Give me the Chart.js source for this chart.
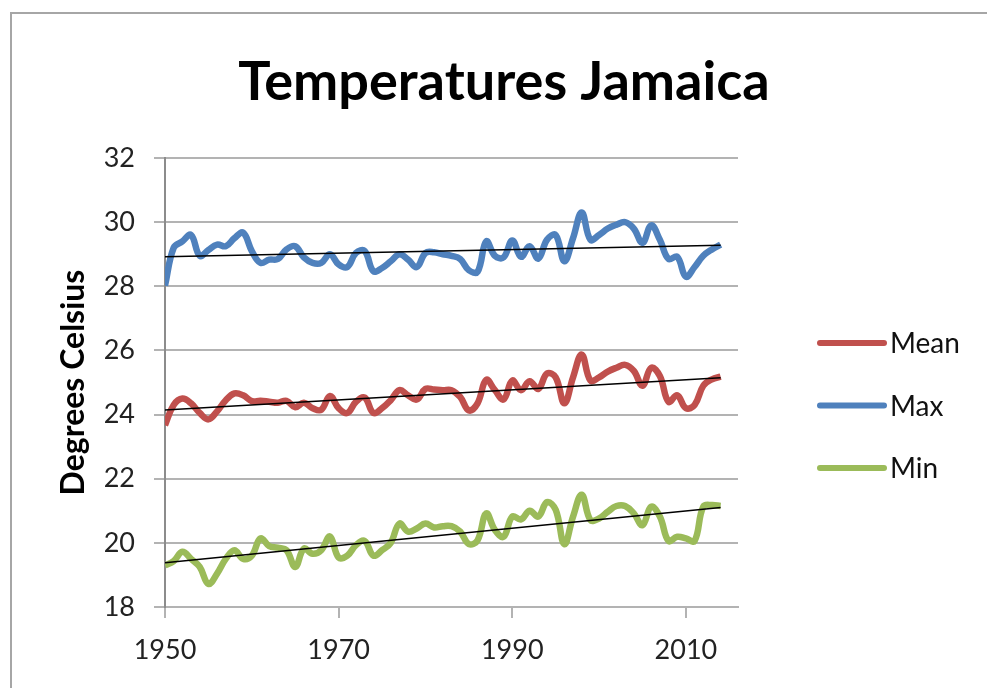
<!DOCTYPE html>
<html>
<head>
<meta charset="utf-8">
<title>Temperatures Jamaica</title>
<script src="https://cdn.jsdelivr.net/npm/chart.js@4.4.1/dist/chart.umd.min.js"></script>
<style>
    html, body { margin: 0; padding: 0; background: #fff; }
    #wrap { position: relative; width: 987px; height: 688px; overflow: hidden; }
    #frame {
        position: absolute; left: 10px; top: 12px; width: 1000px; height: 700px;
        border-left: 2px solid #a6a6a6; border-top: 2px solid #a6a6a6;
    }
    canvas { position: absolute; left: 0; top: 0; }
</style>
</head>
<body>
<div id="wrap">
    <div id="frame"></div>
    <canvas id="tempChart" width="987" height="688"></canvas>
</div>
<script>
const chartTitle = 'Temperatures Jamaica';
const yAxisTitle = 'Degrees Celsius';

// one value per year, 1950-2014
const years = Array.from({ length: 65 }, (_, i) => 1950 + i);

const meanTemp = [
    23.67, 24.30, 24.50, 24.35, 24.05, 23.85, 24.10, 24.45, 24.66, 24.60,
    24.42, 24.43, 24.40, 24.37, 24.43, 24.23, 24.37, 24.20, 24.15, 24.58,
    24.20, 24.05, 24.40, 24.53, 24.05, 24.20, 24.45, 24.76, 24.60, 24.47,
    24.80, 24.78, 24.76, 24.76, 24.55, 24.13, 24.35, 25.08, 24.76, 24.47,
    25.06, 24.76, 25.04, 24.80, 25.28, 25.16, 24.35, 25.16, 25.87, 25.06,
    25.16, 25.34, 25.46, 25.55, 25.36, 24.90, 25.46, 25.20, 24.40, 24.60,
    24.20, 24.30, 24.90, 25.10, 25.18
];
const maxTemp = [
    28.02, 29.20, 29.40, 29.60, 28.95, 29.13, 29.30, 29.25, 29.50, 29.67,
    29.10, 28.73, 28.83, 28.85, 29.15, 29.25, 28.90, 28.73, 28.73, 29.00,
    28.68, 28.60, 29.04, 29.10, 28.47, 28.57, 28.78, 29.00, 28.83, 28.60,
    29.04, 29.06, 29.00, 28.95, 28.85, 28.50, 28.45, 29.40, 28.95, 28.90,
    29.43, 28.92, 29.25, 28.86, 29.45, 29.60, 28.78, 29.50, 30.30, 29.45,
    29.60, 29.80, 29.92, 30.00, 29.80, 29.35, 29.90, 29.45, 28.85, 28.92,
    28.30, 28.60, 28.95, 29.15, 29.30
];
const minTemp = [
    19.30, 19.43, 19.72, 19.50, 19.25, 18.72, 19.04, 19.50, 19.77, 19.50,
    19.60, 20.14, 19.90, 19.85, 19.77, 19.25, 19.82, 19.66, 19.77, 20.20,
    19.54, 19.60, 19.93, 20.06, 19.60, 19.77, 20.00, 20.60, 20.35, 20.45,
    20.60, 20.48, 20.52, 20.52, 20.35, 19.96, 20.08, 20.92, 20.40, 20.19,
    20.82, 20.73, 21.00, 20.82, 21.27, 21.03, 19.96, 20.82, 21.50, 20.71,
    20.76, 20.97, 21.15, 21.15, 20.92, 20.55, 21.13, 20.82, 20.06, 20.19,
    20.14, 20.06, 21.13, 21.18, 21.15
];

const seriesNames = ['Mean', 'Max', 'Min'];
const seriesColors = ['#c0504d', '#4f81bd', '#9bbb59'];
const xTicks = [1950, 1970, 1990, 2010];
const yTicks = [18, 20, 22, 24, 26, 28, 30, 32];

// least squares line through a series, drawn from first to last year (Excel style trendline)
function trendLine(values) {
    const n = values.length;
    let sx = 0, sy = 0, sxy = 0, sxx = 0;
    for (let i = 0; i < n; i++) {
        sx += years[i]; sy += values[i];
        sxy += years[i] * values[i]; sxx += years[i] * years[i];
    }
    const slope = (n * sxy - sx * sy) / (n * sxx - sx * sx);
    const icpt = (sy - slope * sx) / n;
    const x0 = years[0], x1 = years[n - 1];
    return [{ x: x0, y: icpt + slope * x0 }, { x: x1, y: icpt + slope * x1 }];
}

const seriesValues = [meanTemp, maxTemp, minTemp];
const datasets = [];

seriesValues.forEach((vals, i) => {
    datasets.push({
        label: seriesNames[i],
        data: years.map((yr, j) => ({ x: yr, y: vals[j] })),
        borderColor: seriesColors[i],
        borderWidth: 6.5,
        pointRadius: 0,
        tension: 0.4,
        order: 1
    });
});
seriesValues.forEach((vals, i) => {
    datasets.push({
        label: seriesNames[i] + ' trend',
        data: trendLine(vals),
        borderColor: '#000',
        borderWidth: 1.5,
        pointRadius: 0,
        order: 0
    });
});

// title and legend drawn by hand so the plot can sit left of centre
const titleAndLegend = {
    id: 'titleAndLegend',
    afterDraw(chart) {
        const ctx = chart.ctx;
        const area = chart.chartArea;
        ctx.save();
        ctx.fillStyle = '#000';
        ctx.font = 'bold 54px Lato';
        ctx.textAlign = 'center';
        ctx.textBaseline = 'alphabetic';
        ctx.fillText(chartTitle, 504, 100);

        ctx.font = '28px Lato';
        ctx.textAlign = 'left';
        ctx.textBaseline = 'middle';
        seriesNames.forEach((name, i) => {
            const y = 343 + i * 62.5;
            ctx.strokeStyle = seriesColors[i];
            ctx.lineWidth = 6;
            ctx.lineCap = 'round';
            ctx.beginPath();
            ctx.moveTo(area.right + 82, y);
            ctx.lineTo(area.right + 146, y);
            ctx.stroke();
            ctx.fillStyle = '#111';
            ctx.fillText(name, area.right + 152, y + 1);
        });
        ctx.restore();
    }
};

const tickFont = { family: 'Lato', size: 27 };

new Chart(document.getElementById('tempChart').getContext('2d'), {
    type: 'line',
    data: { datasets: datasets },
    options: {
        responsive: false,
        animation: false,
        devicePixelRatio: 1,
        layout: { padding: { top: 158, right: 249, bottom: 0, left: 0 } },
        plugins: {
            legend: { display: false },
            tooltip: { enabled: false }
        },
        scales: {
            x: {
                type: 'linear',
                min: 1950,
                max: 2016,
                afterBuildTicks: s => { s.ticks = xTicks.map(v => ({ value: v })); },
                afterFit: s => { s.height = 81; },
                grid: { drawOnChartArea: false, drawTicks: true, tickLength: 11, color: '#b3b3b3', lineWidth: 2 },
                border: { color: '#b3b3b3', width: 2 },
                ticks: { padding: 16, color: '#222', font: tickFont, maxRotation: 0, callback: v => String(v) }
            },
            y: {
                min: 18,
                max: 32,
                afterBuildTicks: s => { s.ticks = yTicks.map(v => ({ value: v })); },
                afterFit: s => { s.width = 165; },
                grid: { color: '#b3b3b3', lineWidth: 2, tickLength: 11, drawTicks: true },
                border: { color: '#8c8c8c', width: 2 },
                ticks: { padding: 19, color: '#222', font: tickFont },
                title: {
                    display: true,
                    text: yAxisTitle,
                    color: '#000',
                    font: { family: 'Lato', size: 32, weight: 'bold' },
                    padding: { top: 54, bottom: 0 }
                }
            }
        }
    },
    plugins: [titleAndLegend]
});
</script>
</body>
</html>
